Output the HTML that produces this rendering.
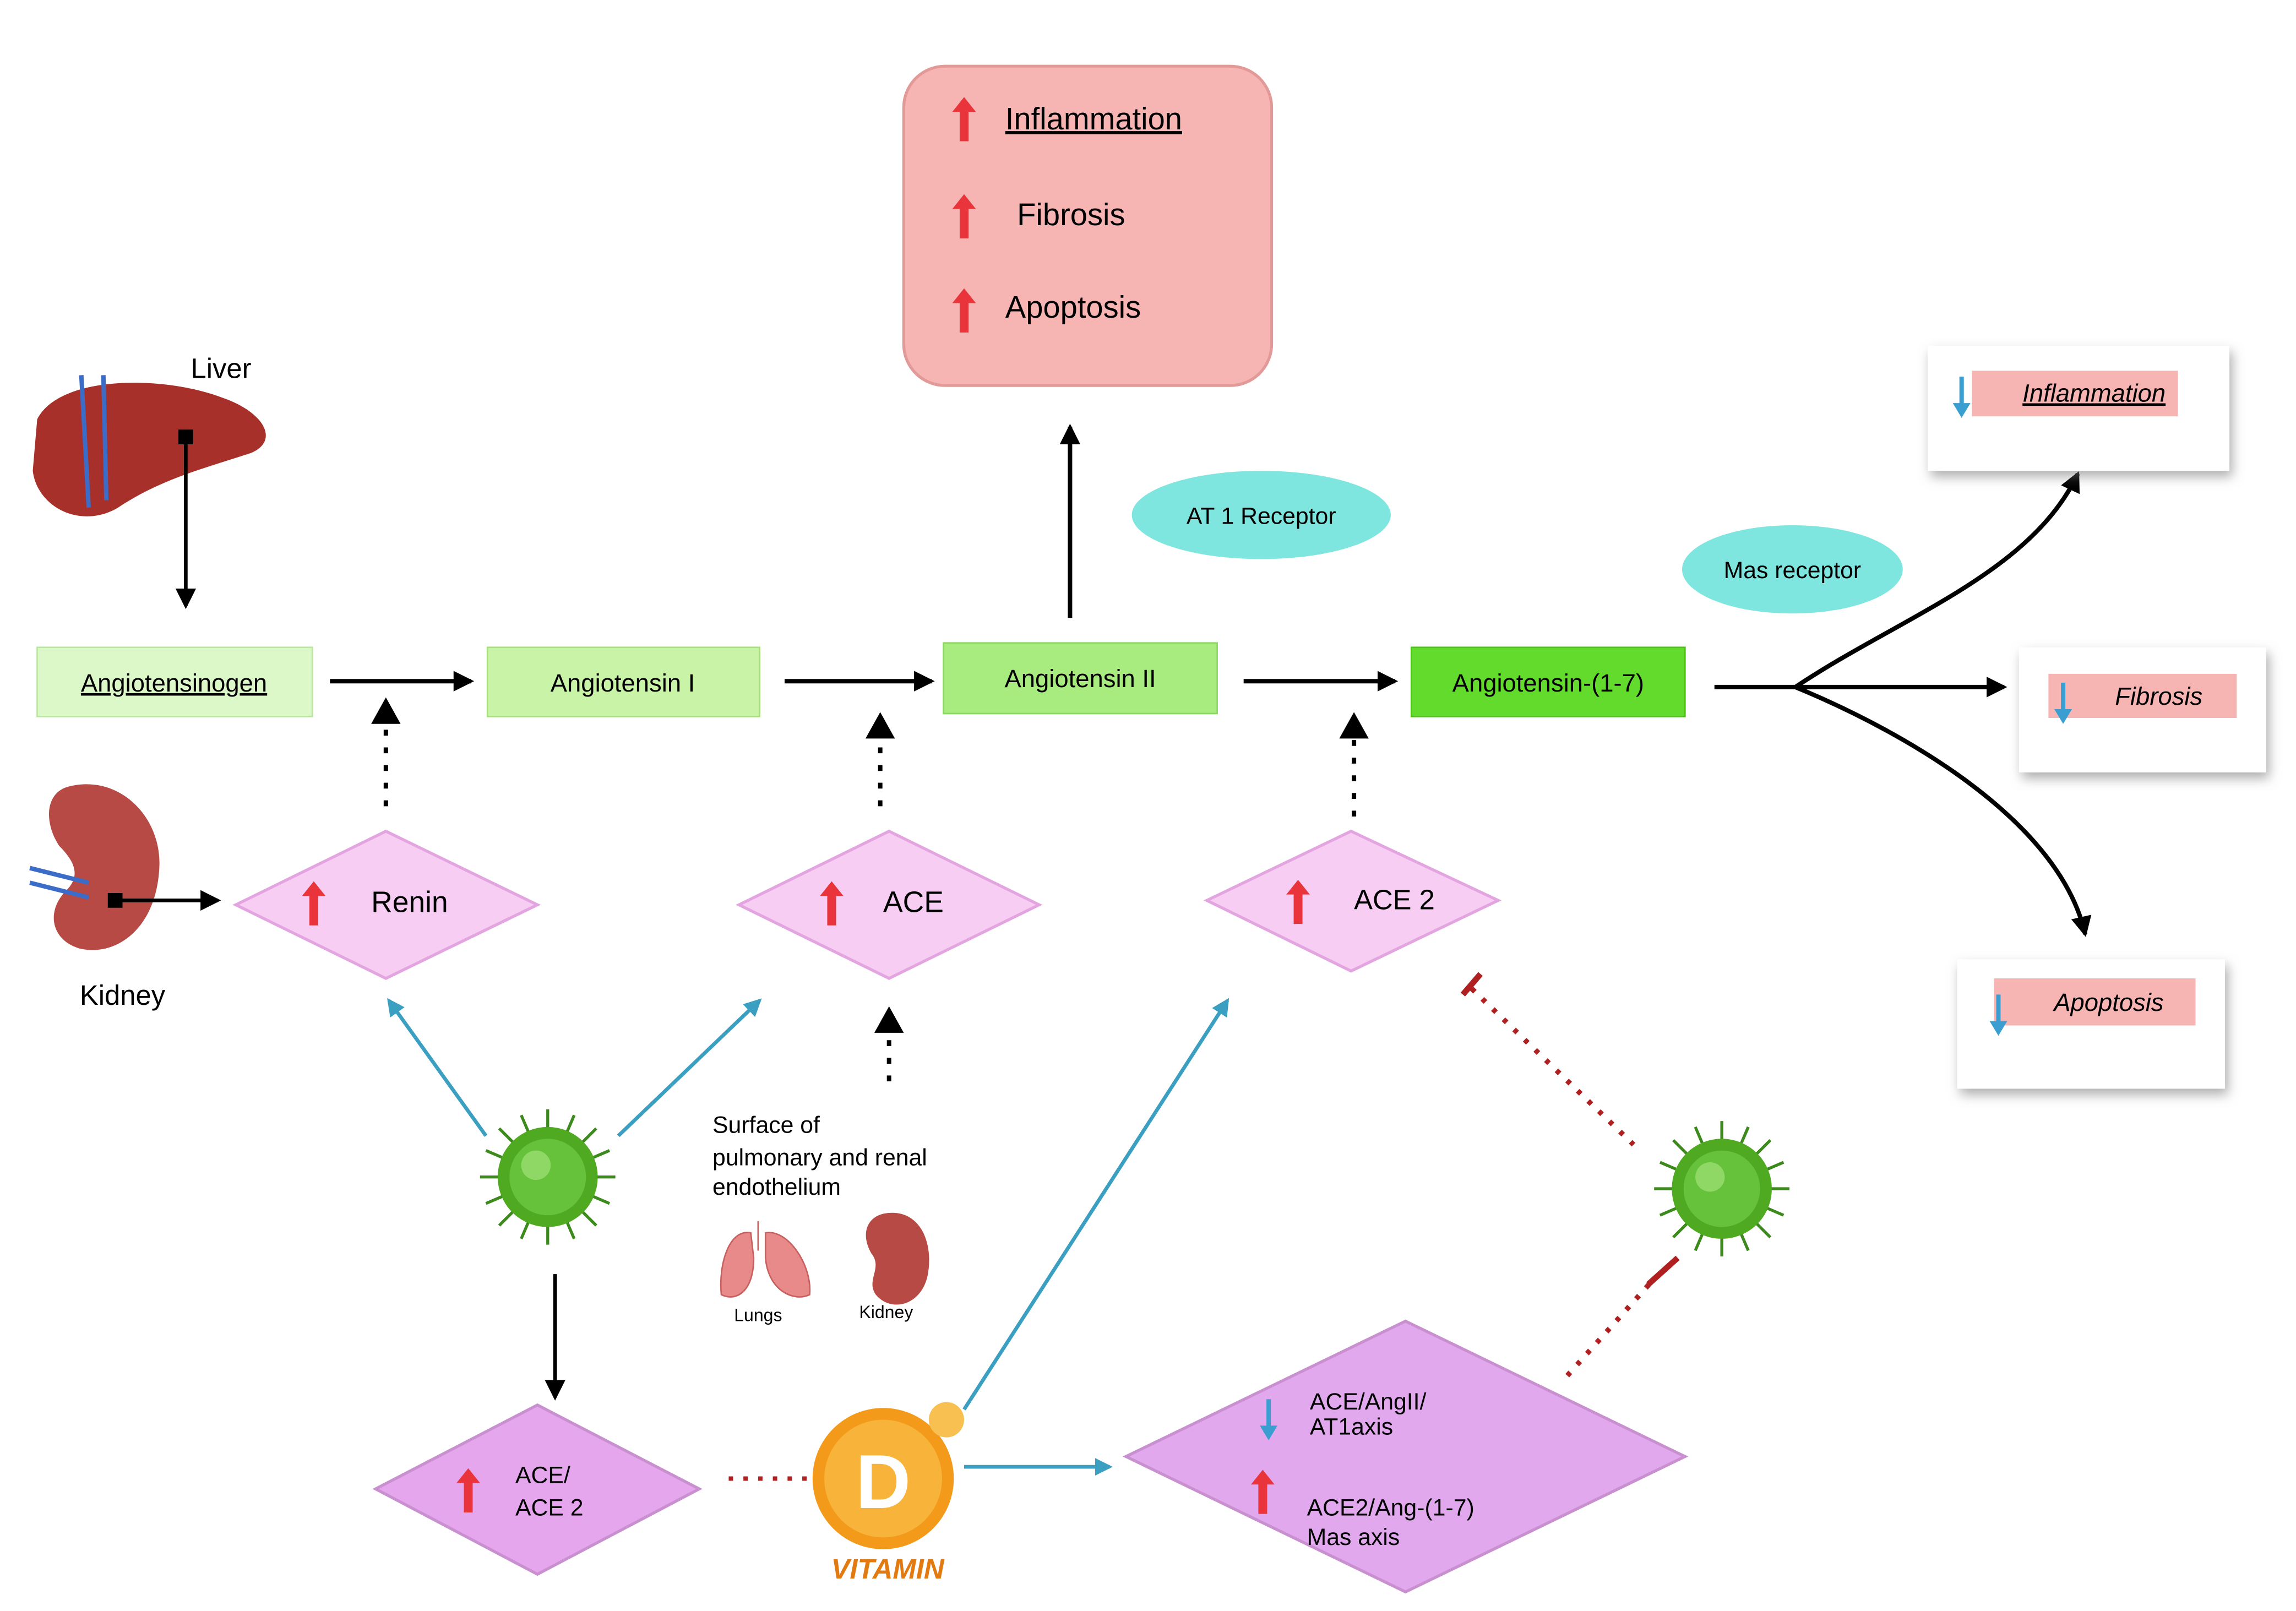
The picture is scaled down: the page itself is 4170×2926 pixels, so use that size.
<!DOCTYPE html>
<html><head><meta charset="utf-8"><style>
html,body{margin:0;padding:0;background:#fff;}
svg{display:block;}
text{font-family:"Liberation Sans",sans-serif;}
</style></head><body>
<svg width="4170" height="2926" viewBox="0 0 1560 1095" xmlns="http://www.w3.org/2000/svg">
<defs>
<marker id="ah" markerWidth="8" markerHeight="8" refX="6" refY="4" orient="auto" markerUnits="userSpaceOnUse" viewBox="0 0 8 8"><path d="M0,0 L8,4 L0,8 z" fill="#000"/></marker>
<marker id="ahb" markerWidth="14" markerHeight="14" refX="12" refY="7" orient="auto" markerUnits="userSpaceOnUse"><path d="M0,0 L14,7 L0,14 z" fill="#000"/></marker>
<marker id="ahc" markerWidth="12" markerHeight="12" refX="10" refY="6" orient="auto" markerUnits="userSpaceOnUse"><path d="M0,0 L12,6 L0,12 z" fill="#3a9fc0"/></marker>
<filter id="sh" x="-10%" y="-10%" width="130%" height="140%"><feDropShadow dx="2" dy="4" stdDeviation="4" flood-color="#777" flood-opacity="0.6"/></filter>
<g id="rup"><path d="M0,-14 L-8,-4 L-3,-4 L-3,16 L3,16 L3,-4 L8,-4 z" fill="#e8343a"/></g>
<g id="bdn"><path d="M0,14 L-6,4 L-1.5,4 L-1.5,-14 L1.5,-14 L1.5,4 L6,4 z" fill="#3a9fd0"/></g>
<g id="virus">
<g stroke="#3c8a1c" stroke-width="2">
<line x1="-46" y1="0" x2="46" y2="0"/><line x1="0" y1="-46" x2="0" y2="46"/>
<line x1="-33" y1="-33" x2="33" y2="33"/><line x1="-33" y1="33" x2="33" y2="-33"/>
<line x1="-42" y1="-18" x2="42" y2="18"/><line x1="-42" y1="18" x2="42" y2="-18"/>
<line x1="-18" y1="-42" x2="18" y2="42"/><line x1="18" y1="-42" x2="-18" y2="42"/>
</g>
<circle r="34" fill="#4faa22"/><circle r="26" fill="#66c23a"/><circle cx="-8" cy="-8" r="10" fill="#8fd865"/>
</g>
</defs>

<!-- top pink box -->
<rect x="614" y="45" width="250" height="217" rx="28" fill="#f6b5b3" stroke="#e29a98" stroke-width="2"/>
<use href="#rup" x="655" y="80" transform="translate(0,0)"/>
<use href="#rup" x="655" y="146"/>
<use href="#rup" x="655" y="210"/>
<text x="683" y="88" font-size="21" text-decoration="underline">Inflammation</text>
<text x="691" y="153" font-size="21">Fibrosis</text>
<text x="683" y="216" font-size="21">Apoptosis</text>
<line x1="727" y1="420" x2="727" y2="290" stroke="#000" stroke-width="3" marker-end="url(#ahb)"/>

<ellipse cx="857" cy="350" rx="88" ry="30" fill="#7fe6df"/>
<text x="857" y="356" font-size="16" text-anchor="middle">AT 1 Receptor</text>
<ellipse cx="1218" cy="387" rx="75" ry="30" fill="#7fe6df"/>
<text x="1218" y="393" font-size="16" text-anchor="middle">Mas receptor</text>

<!-- green boxes -->
<rect x="25" y="440" width="187" height="47" fill="#dcf7c8" stroke="#b9e6a0"/>
<text x="118" y="470" font-size="17" text-anchor="middle" text-decoration="underline">Angiotensinogen</text>
<rect x="331" y="440" width="185" height="47" fill="#c9f4a8" stroke="#a8e080"/>
<text x="423" y="470" font-size="17" text-anchor="middle">Angiotensin I</text>
<rect x="641" y="437" width="186" height="48" fill="#a8ec80" stroke="#8bd860"/>
<text x="734" y="467" font-size="17" text-anchor="middle">Angiotensin II</text>
<rect x="959" y="440" width="186" height="47" fill="#63db2c" stroke="#4ec21a"/>
<text x="1052" y="470" font-size="17" text-anchor="middle">Angiotensin-(1-7)</text>

<g stroke="#000" stroke-width="3">
<line x1="224" y1="463" x2="320" y2="463" marker-end="url(#ahb)"/>
<line x1="533" y1="463" x2="633" y2="463" marker-end="url(#ahb)"/>
<line x1="845" y1="463" x2="948" y2="463" marker-end="url(#ahb)"/>
</g>
<g stroke="#000" stroke-width="3" stroke-dasharray="4,8">
<line x1="262" y1="548" x2="262" y2="490"/>
<line x1="598" y1="548" x2="598" y2="500"/>
<line x1="920" y1="555" x2="920" y2="500"/>
<line x1="604" y1="735" x2="604" y2="700"/>
</g>
<g fill="#000">
<path d="M252,492 L262,474 L272,492z"/><path d="M588,502 L598,484 L608,502z"/>
<path d="M910,502 L920,484 L930,502z"/><path d="M594,702 L604,684 L614,702z"/>
</g>

<!-- diamonds -->
<polygon points="160,615 262,565 365,615 262,665" fill="#f8cdf4" stroke="#e3a5df" stroke-width="2"/>
<use href="#rup" x="213" y="613"/>
<text x="252" y="620" font-size="20">Renin</text>
<polygon points="502,615 604,565 706,615 604,665" fill="#f8cdf4" stroke="#e3a5df" stroke-width="2"/>
<use href="#rup" x="565" y="613"/>
<text x="600" y="620" font-size="20">ACE</text>
<polygon points="820,612 918,565 1018,612 918,660" fill="#f8cdf4" stroke="#e3a5df" stroke-width="2"/>
<use href="#rup" x="882" y="612"/>
<text x="920" y="618" font-size="19">ACE 2</text>

<!-- liver -->
<path d="M25,285 C40,255 110,255 150,270 C180,280 190,300 170,308 C140,318 110,325 80,345 C55,360 25,345 22,320 Z" fill="#a8302a"/>
<path d="M55,255 L60,345 M70,255 L72,340" stroke="#3a6cc8" stroke-width="3"/>
<text x="150" y="257" font-size="19" text-anchor="middle">Liver</text>
<rect x="121" y="292" width="10" height="10" fill="#000"/>
<line x1="126" y1="297" x2="126" y2="412" stroke="#000" stroke-width="2.5" marker-end="url(#ahb)"/>

<!-- kidney -->
<path d="M45,535 C80,525 110,555 108,590 C106,630 80,650 55,645 C35,640 30,620 45,605 C55,595 50,585 40,575 C30,560 30,540 45,535 Z" fill="#b84a45"/>
<path d="M20,590 L60,600 M20,600 L60,610" stroke="#3a6cc8" stroke-width="3"/>
<text x="83" y="683" font-size="19" text-anchor="middle">Kidney</text>
<rect x="73" y="607" width="10" height="10" fill="#000"/>
<line x1="78" y1="612" x2="148" y2="612" stroke="#000" stroke-width="2.5" marker-end="url(#ahb)"/>

<!-- viruses -->
<use href="#virus" x="372" y="800"/>
<use href="#virus" x="1170" y="808"/>

<!-- blue arrows -->
<g stroke="#3a9fc0" stroke-width="2.5">
<line x1="330" y1="772" x2="264" y2="680" marker-end="url(#ahc)"/>
<line x1="420" y1="772" x2="516" y2="680" marker-end="url(#ahc)"/>
<line x1="655" y1="958" x2="834" y2="680" marker-end="url(#ahc)"/>
<line x1="655" y1="997" x2="754" y2="997" marker-end="url(#ahc)"/>
</g>

<text font-size="16"><tspan x="484" y="770">Surface of</tspan><tspan x="484" y="792">pulmonary and renal</tspan><tspan x="484" y="812">endothelium</tspan></text>
<path d="M515,830 L515,850 M510,838 C495,835 488,860 490,880 C500,885 512,878 512,855 Z M520,838 C535,835 552,860 550,880 C540,885 522,878 520,855 Z" fill="#e88a8a" stroke="#c86060"/>
<text x="515" y="898" font-size="12" text-anchor="middle">Lungs</text>
<path d="M600,825 C625,820 635,845 630,868 C625,888 605,892 595,880 C588,870 600,862 592,852 C585,840 588,828 600,825 Z" fill="#b84a45"/>
<text x="602" y="896" font-size="12" text-anchor="middle">Kidney</text>

<line x1="377" y1="866" x2="377" y2="950" stroke="#000" stroke-width="2.5" marker-end="url(#ahb)"/>

<polygon points="255,1012 365,955 475,1012 365,1070" fill="#e6a6ee" stroke="#c990d0" stroke-width="2"/>
<use href="#rup" x="318" y="1012"/>
<text font-size="16"><tspan x="350" y="1008">ACE/</tspan><tspan x="350" y="1030">ACE 2</tspan></text>

<line x1="495" y1="1005" x2="550" y2="1005" stroke="#b02020" stroke-width="3" stroke-dasharray="3,7"/>

<!-- vitamin D -->
<circle cx="600" cy="1005" r="48" fill="#f39a1a"/>
<circle cx="600" cy="1005" r="40" fill="#f8b43a"/>
<text x="600" y="1025" font-size="52" font-weight="bold" fill="#fff" text-anchor="middle">D</text>
<circle cx="643" cy="965" r="12" fill="#f8c050"/>
<text x="603" y="1073" font-size="19" font-weight="bold" font-style="italic" fill="#e37a10" text-anchor="middle">VITAMIN</text>

<polygon points="765,990 955,898 1145,990 955,1082" fill="#e2a8ee" stroke="#c990d0" stroke-width="2"/>
<use href="#bdn" x="862" y="965"/>
<use href="#rup" x="858" y="1013"/>
<text font-size="16"><tspan x="890" y="958">ACE/AngII/</tspan><tspan x="890" y="975">AT1axis</tspan><tspan x="888" y="1030">ACE2/Ang-(1-7)</tspan><tspan x="888" y="1050">Mas axis</tspan></text>

<!-- inhibition lines -->
<g stroke="#b02020" stroke-width="3.5">
<line x1="1065" y1="935" x2="1125" y2="868" stroke-dasharray="3,7"/>
<line x1="1000" y1="672" x2="1110" y2="778" stroke-dasharray="3,7"/>
<line x1="1120" y1="873" x2="1140" y2="855" stroke-width="4"/>
<line x1="994" y1="676" x2="1006" y2="662" stroke-width="4"/>
</g>

<!-- right branching -->
<g stroke="#000" stroke-width="3" fill="none">
<path d="M1165,467 L1220,467"/>
<path d="M1220,467 C1290,420 1380,390 1412,322" marker-end="url(#ahb)"/>
<path d="M1220,467 L1362,467" marker-end="url(#ahb)"/>
<path d="M1220,467 C1300,500 1400,560 1417,635" marker-end="url(#ahb)"/>
</g>

<rect x="1310" y="235" width="205" height="85" fill="#fff" filter="url(#sh)"/>
<rect x="1340" y="252" width="140" height="31" fill="#f6b5b3"/>
<use href="#bdn" x="1333" y="270"/>
<text x="1423" y="273" font-size="17" font-style="italic" text-anchor="middle" text-decoration="underline">Inflammation</text>
<rect x="1372" y="440" width="168" height="85" fill="#fff" filter="url(#sh)"/>
<rect x="1392" y="458" width="128" height="30" fill="#f6b5b3"/>
<use href="#bdn" x="1402" y="478"/>
<text x="1467" y="479" font-size="17" font-style="italic" text-anchor="middle">Fibrosis</text>
<rect x="1330" y="652" width="182" height="88" fill="#fff" filter="url(#sh)"/>
<rect x="1355" y="665" width="137" height="32" fill="#f6b5b3"/>
<use href="#bdn" x="1358" y="690"/>
<text x="1433" y="687" font-size="17" font-style="italic" text-anchor="middle">Apoptosis</text>
</svg>
</body></html>
